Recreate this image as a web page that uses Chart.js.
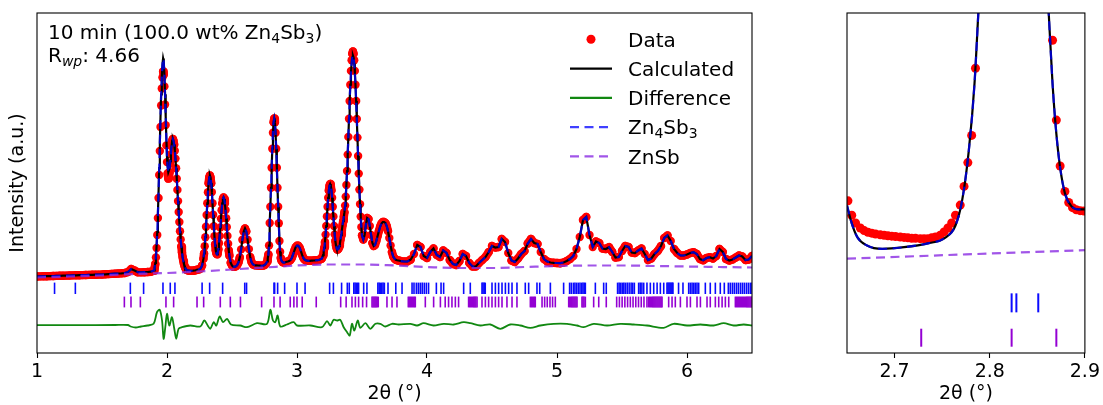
<!DOCTYPE html>
<html><head><meta charset="utf-8">
<script src="https://cdn.jsdelivr.net/npm/chart.js@4.4.0/dist/chart.umd.min.js"></script>
<style>
html,body{margin:0;padding:0;background:#fff;}
#wrap{position:relative;width:1103px;height:405px;overflow:hidden;background:#fff;}
#c1{position:absolute;left:0;top:0;width:770px;height:405px;}
#c2{position:absolute;left:810px;top:0;width:293px;height:405px;}
</style></head><body>
<div id="wrap"><canvas id="c1" width="770" height="405"></canvas><canvas id="c2" width="293" height="405"></canvas></div>
<script>
// ---------------- data (intensity in arbitrary units) ----------------
const twoTheta = [
1.000,1.025,1.050,1.075,1.100,1.125,1.150,1.175,1.200,1.225,1.250,1.275,1.300,1.325,1.350,1.375,1.400,1.425,1.450,1.475,1.500,1.525,1.550,1.575,1.600,1.625,1.650,1.675,1.700,1.725,1.750,1.775,1.800,1.825,1.850,1.875,
1.900,1.905,1.910,1.915,1.920,1.925,1.930,1.935,1.940,1.945,1.950,1.955,1.960,1.965,1.970,1.975,1.980,1.985,1.990,1.995,2.000,2.005,2.010,2.015,2.020,2.025,2.030,2.035,2.040,2.045,2.050,2.055,2.060,2.065,2.070,2.075,2.080,2.085,2.090,2.095,2.100,2.105,2.110,2.115,2.120,2.125,2.130,2.135,2.140,2.145,2.150,
2.16,2.17,2.18,2.19,2.20,2.21,2.22,2.23,2.24,2.25,2.26,2.27,
2.280,2.285,2.290,2.295,2.300,2.305,2.310,2.315,2.320,2.325,2.330,2.335,2.340,2.345,2.350,2.355,2.360,2.365,2.370,2.375,2.380,2.385,2.390,2.395,2.400,2.405,2.410,2.415,2.420,2.425,2.430,2.435,2.440,2.445,2.450,2.455,2.460,2.465,2.470,2.475,2.480,
2.49,2.50,2.51,2.52,2.53,2.54,2.55,2.56,2.57,2.58,2.59,2.60,2.61,2.62,2.63,2.64,2.65,2.66,2.67,2.68,2.69,2.70,2.71,2.72,2.73,2.74,2.75,2.76,2.77,
2.775,2.780,2.785,2.790,2.795,2.800,2.805,2.810,2.815,2.820,2.825,2.830,2.835,2.840,2.845,2.850,2.855,2.860,2.865,2.870,2.875,
2.88,2.89,2.90,2.91,2.92,2.93,2.94,2.95,2.96,2.97,2.98,2.99,3.00,3.01,3.02,3.03,3.04,3.05,3.06,3.07,3.08,3.09,3.10,3.11,3.12,3.13,3.14,3.15,3.16,3.17,3.18,
3.190,3.195,3.200,3.205,3.210,3.215,3.220,3.225,3.230,3.235,3.240,3.245,3.250,3.255,3.260,3.265,3.270,3.275,3.280,3.285,3.290,3.295,3.300,3.305,3.310,3.315,3.320,3.325,3.330,3.335,3.340,3.345,3.350,3.355,3.360,3.365,3.370,3.375,3.380,3.385,3.390,3.395,3.400,3.405,3.410,3.415,3.420,3.425,3.430,3.435,3.440,3.445,3.450,3.455,3.460,3.465,3.470,3.475,3.480,3.485,3.490,3.495,
3.50,3.51,3.52,3.53,3.54,3.55,3.56,3.57,3.58,3.59,3.60,3.61,3.62,3.63,3.64,3.65,3.66,3.67,3.68,3.69,3.70,3.71,3.72,3.73,3.74,3.75,3.76,3.77,3.78,3.79,
3.800,3.825,3.850,3.875, 3.900,3.925,3.950,3.975, 4.000,4.025,4.050,4.075, 4.100,4.125,4.150,4.175,
4.200,4.225,4.250,4.275, 4.300,4.325,4.350,4.375, 4.400,4.425,4.450,4.475, 4.500,4.525,4.550,4.575,
4.600,4.625,4.650,4.675, 4.700,4.725,4.750,4.775, 4.800,4.825,4.850,4.875, 4.900,4.925,4.950,4.975,
5.000,5.025,5.050,5.075, 5.100,5.125,5.150,5.175, 5.200,5.225,5.250,5.275, 5.300,5.325,5.350,5.375,
5.400,5.425,5.450,5.475, 5.500,5.525,5.550,5.575, 5.600,5.625,5.650,5.675, 5.700,5.725,5.750,5.775,
5.800,5.825,5.850,5.875, 5.900,5.925,5.950,5.975, 6.000,6.025,6.050,6.075, 6.100,6.125,6.150,6.175,
6.200,6.225,6.250,6.275, 6.300,6.325,6.350,6.375, 6.400,6.425,6.450,6.475, 6.500
];
const yObs = [
76.5,76.6,76.7,76.8,76.9,77.0,77.1,77.2,77.3,77.4,77.5,77.6,77.7,77.8,77.9,78.0,78.1,78.2,78.3,78.4,78.5,78.7,78.9,79.1,79.3,79.5,79.7,80.0,81.0,84.0,82.5,80.8,80.6,80.8,81.0,81.3,
82.3,85.0,89.0,95.5,105.0,118.0,135.0,155.0,178.0,202.0,226.0,247.5,264.5,275.5,281.5,278.5,266.6,248.5,227.9,207.6,190.9,179.5,174.4,175.3,180.8,189.3,198.7,206.9,212.4,214.1,212.2,208.4,202.3,194.4,184.7,174.2,163.1,151.9,141.0,131.0,121.8,113.6,106.6,100.8,96.0,92.2,89.2,87.0,85.3,84.1,83.2,
82.6,82.3,82.2,82.2,82.3,82.5,82.8,83.2,83.5,83.8,84.8,87.5,
94.1,99.5,106.7,115.8,126.3,138.0,149.7,160.8,169.7,175.5,177.6,175.5,169.7,160.9,149.8,138.2,126.7,116.8,108.6,102.7,99.5,98.6,100.1,103.8,109.8,117.1,125.5,134.4,142.8,149.6,154.0,155.6,154.0,149.7,143.0,134.7,125.9,117.1,109.3,102.6,97.3,
90.2,87.5,86.3,86.2,86.8,88.0,90.6,95.6,103.6,113.2,121.3,124.6,121.5,113.4,103.9,96.0,91.0,88.8,88.0,87.7,87.6,87.5,87.4,87.3,87.25,87.4,87.9,89.1,91.5,
94.5,98.5,107.5,130.0,146.3,165.2,185.3,204.3,220.3,230.8,234.5,230.8,220.3,204.3,185.3,165.2,146.3,129.8,112.0,101.2,95.0,
92.5,90.8,90.5,90.8,91.2,91.5,92.0,93.0,95.0,98.5,102.5,105.8,107.3,107.2,105.3,101.8,97.8,94.8,93.2,92.5,92.3,92.2,92.2,92.3,92.4,92.5,92.6,92.8,92.9,93.2,93.7,
94.3,95.7,97.8,100.9,105.3,111.1,118.4,127.0,136.6,146.2,155.2,162.5,167.3,169.0,167.3,162.5,155.2,146.2,136.6,127.0,118.6,112.0,107.5,104.8,103.5,103.5,104.5,106.8,109.8,113.5,117.8,122.8,127.6,131.9,136.1,140.8,147.4,156.4,168.0,182.0,198.4,216.1,234.3,252.0,268.3,282.1,292.7,299.2,301.5,299.2,292.7,282.1,268.3,252.0,234.0,215.4,197.0,179.4,163.4,148.9,136.4,125.9,
117.5,113.5,118,128,135,134,127,118,110,107,108,112,117,122,126.5,129.5,131,131,130,127,122,115,107.5,101,96.5,94.5,93.3,92.8,92.5,92.2,
91.8,91.5,91.6,93.5, 99,108,106,97, 95,101,104.5,98, 96,102.5,100,93,
89,88,92,99, 97,90,86.5,86.5, 90,93,96,101, 107,105.5,106,114,
111,100,92.5,91, 94.5,99,102,109.5, 114,110,109,101, 94,91.5,90.5,90.2,
90,89.8,90.5,92, 94,97,104,116, 133,136,118,106, 111.5,110,104.5,104,
105.8,101,95.5,96, 102,107,106,100.5, 100,102.5,104.5,99, 93,94.5,99,102,
107,115,117.5,112, 104,100,97.5,97.5, 98.5,100,100.8,99, 94,92.8,95,95.8,
94.5,97,104,101, 94,92.5,93.5,95.5, 97.5,96.5,93,93.5, 97
];
const yCalc = [
76.5,76.6,76.7,76.8,76.9,77.0,77.1,77.2,77.3,77.4,77.5,77.6,77.7,77.8,77.9,78.0,78.1,78.2,78.3,78.4,78.5,78.7,78.9,79.1,79.3,79.5,79.7,80.0,81.0,84.0,82.5,80.8,80.6,80.8,81.0,81.3,
82.5,85.6,90.0,97.0,107.1,121.0,139.1,160.4,184.8,210.3,235.7,258.6,276.6,288.3,294.5,291.2,278.3,258.8,236.5,214.5,196.1,186.0,180.9,180.9,184.8,191.9,199.7,206.9,212.4,214.1,212.2,208.4,202.3,194.4,184.7,174.2,163.1,151.9,141.0,131.0,121.8,113.6,106.6,100.8,96.0,92.2,89.2,87.0,85.3,84.1,83.2,
82.6,82.3,82.2,82.2,82.3,82.5,82.8,83.2,83.5,83.8,84.8,87.5,
94.1,99.5,106.7,115.8,126.3,138.0,149.7,160.8,169.7,175.5,177.6,175.5,169.7,160.9,149.8,138.2,126.7,116.8,108.6,102.7,99.5,98.6,100.1,103.8,109.8,117.1,125.5,134.4,142.8,149.6,154.0,155.6,154.0,149.7,143.0,134.7,125.9,117.1,109.3,102.6,97.3,
90.2,87.5,86.3,86.2,86.8,88.0,90.6,95.6,103.6,113.2,121.3,124.6,121.5,113.4,103.9,96.0,91.0,88.8,88.0,87.7,87.6,87.5,87.4,87.3,87.25,87.4,87.9,89.1,91.5,
94.5,98.5,107.5,130.0,146.3,165.2,185.3,204.3,220.3,230.8,234.5,230.8,220.3,204.3,185.3,165.2,146.3,129.8,112.0,101.2,95.0,
92.5,90.8,90.5,90.8,91.2,91.5,92.0,93.0,95.0,98.5,102.5,105.8,107.3,107.2,105.3,101.8,97.8,94.8,93.2,92.5,92.3,92.2,92.2,92.3,92.4,92.5,92.6,92.8,92.9,93.2,93.7,
94.3,95.7,97.8,100.9,105.3,111.1,118.4,127.0,136.6,146.2,155.2,162.5,167.3,169.0,167.3,162.5,155.2,146.2,136.6,127.0,118.6,112.0,107.5,104.8,103.5,103.5,104.5,106.8,109.8,113.5,117.8,122.8,127.6,131.9,136.1,140.8,147.4,156.4,168.0,182.0,198.4,216.1,234.3,252.0,268.3,280.0,289.5,295.5,297.5,295.5,289.5,280.0,268.3,252.0,234.0,215.4,197.0,179.4,163.4,148.9,136.4,125.9,
117.5,113.5,118,128,135,134,127,118,110,107,108,112,117,122,126.5,129.5,131,131,130,127,122,115,107.5,101,96.5,94.5,93.3,92.8,92.5,92.2,
91.8,91.5,91.6,93.5, 99,108,106,97, 95,101,104.5,98, 96,102.5,100,93,
89,88,92,99, 97,90,86.5,86.5, 90,93,96,101, 107,105.5,106,114,
111,100,92.5,91, 94.5,99,102,109.5, 114,110,109,101, 94,91.5,90.5,90.2,
90,89.8,90.5,92, 94,97,104,116, 133,136,118,106, 111.5,110,104.5,104,
105.8,101,95.5,96, 102,107,106,100.5, 100,102.5,104.5,99, 93,94.5,99,102,
107,115,117.5,112, 104,100,97.5,97.5, 98.5,100,100.8,99, 94,92.8,95,95.8,
94.5,97,104,101, 94,92.5,93.5,95.5, 97.5,96.5,93,93.5, 97
];
const diffX = [1.00,1.30,1.60,1.70,1.72,1.76,1.80,1.85,1.897,1.923,1.944,1.962,1.974,1.987,2.000,2.018,2.038,2.056,2.071,2.089,2.115,2.179,2.256,2.287,2.313,2.333,2.359,2.379,2.405,2.431,2.462,2.492,2.564,2.615,2.692,2.769,2.795,2.815,2.833,2.851,2.872,2.923,2.974,3.000,3.103,3.192,3.231,3.256,3.282,3.308,3.333,3.359,3.385,3.405,3.423,3.441,3.467,3.487,3.526,3.564,3.603,3.641,3.679,3.731,3.782,3.872,3.923,3.974,4.050,4.128,4.205,4.282,4.333,4.410,4.487,4.564,4.640,4.718,4.795,4.872,4.974,5.077,5.154,5.205,5.282,5.385,5.487,5.590,5.692,5.820,5.897,6.000,6.103,6.205,6.282,6.359,6.436,6.500];
const diffY = [27.8,27.8,28.0,28.0,26.5,25.5,26.5,27.5,29.2,40.8,43.2,32.5,14.2,25.8,39.2,27.5,35.8,24.2,14.2,24.2,25.8,27.5,26.5,32.5,27.5,24.2,30.8,27.5,36.5,30.8,34.2,28.5,27.5,25.8,29.8,29.2,43.2,32.5,30.8,37.5,26.5,28.5,30.8,27.5,27.5,25.8,31.8,27.5,33.2,32.5,33.2,25.8,20.8,17.5,29.2,22.5,32.5,25.2,29.8,24.2,29.2,29.2,26.5,29.2,28.5,29.2,27.5,29.8,27.5,29.2,28.5,30.8,29.8,27.5,28.5,24.2,28.5,27.5,25.2,27.5,29.2,29.2,27.5,25.8,29.2,27.5,29.2,28.5,27.5,25.2,29.2,27.5,28.5,27.5,29.8,27.5,28.5,27.5];
const bkgX = [1.0,1.25,1.5,1.75,2.0,2.25,2.5,2.75,3.0,3.25,3.5,3.75,4.0,4.25,4.5,4.75,5.0,5.25,5.5,5.75,6.0,6.25,6.5];
const bkgY = [75.5,76.5,77.5,79,80,81.5,83.5,85.5,87.5,88.5,88.5,87.5,86,85,85,86,87,87.5,87.5,87,86.5,86,85.5];
const zn4sb3Refl = [1.135,1.295,1.718,1.820,1.969,2.025,2.061,2.270,2.328,2.428,2.598,2.612,2.823,2.828,2.851,2.905,3.000,3.062,3.251,3.280,3.343,3.387,3.402,3.437,3.447,3.457,3.466,3.474,3.513,3.538,3.622,3.632,3.642,3.652,3.662,3.672,3.700,3.760,3.808,3.885,3.900,3.918,3.933,3.948,3.963,3.979,3.995,4.012,4.072,4.108,4.128,4.282,4.333,4.423,4.431,4.440,4.448,4.500,4.526,4.551,4.577,4.603,4.628,4.654,4.692,4.756,4.782,4.846,4.867,4.949,5.051,5.097,5.110,5.126,5.138,5.151,5.164,5.177,5.190,5.200,5.210,5.218,5.295,5.359,5.379,5.466,5.478,5.490,5.502,5.514,5.526,5.540,5.555,5.570,5.582,5.595,5.628,5.640,5.653,5.667,5.692,5.718,5.744,5.770,5.795,5.821,5.846,5.854,5.862,5.870,5.878,5.886,5.892,5.935,5.969,6.013,6.026,6.039,6.052,6.064,6.077,6.090,6.141,6.179,6.218,6.256,6.287,6.318,6.333,6.349,6.364,6.380,6.395,6.411,6.426,6.441,6.457,6.472,6.487,6.500];
const znsbRefl = [1.672,1.723,1.795,1.992,2.051,2.231,2.282,2.410,2.487,2.565,2.728,2.823,2.870,2.948,2.976,3.000,3.040,3.148,3.336,3.378,3.423,3.449,3.474,3.505,3.535,3.577,3.585,3.593,3.601,3.609,3.617,3.625,3.692,3.731,3.769,3.856,3.864,3.872,3.880,3.888,3.896,3.904,3.910,3.987,4.051,4.103,4.140,4.166,4.192,4.218,4.243,4.320,4.328,4.336,4.344,4.352,4.360,4.368,4.376,4.385,4.423,4.449,4.474,4.500,4.526,4.551,4.577,4.615,4.654,4.692,4.795,4.803,4.811,4.819,4.827,4.833,4.885,4.905,4.925,4.946,4.966,4.987,5.090,5.098,5.106,5.114,5.122,5.130,5.138,5.146,5.154,5.192,5.200,5.208,5.218,5.282,5.321,5.379,5.459,5.480,5.501,5.522,5.543,5.564,5.585,5.606,5.627,5.648,5.669,5.692,5.705,5.713,5.721,5.729,5.737,5.745,5.753,5.761,5.769,5.777,5.785,5.793,5.801,5.808,5.859,5.885,5.910,5.949,6.000,6.026,6.077,6.103,6.154,6.179,6.218,6.244,6.270,6.295,6.321,6.372,6.380,6.388,6.396,6.404,6.412,6.420,6.428,6.436,6.444,6.452,6.460,6.468,6.476,6.484,6.492,6.500];
// zoomed panel (2.65 - 2.90)
const zoomObsX = [2.651,2.655,2.659,2.664,2.668,2.672,2.676,2.680,2.685,2.689,2.693,2.697,2.701,2.706,2.710,2.714,2.718,2.722,2.727,2.731,2.735,2.739,2.743,2.748,2.752,2.756,2.760,2.764,2.769,2.773,2.777,2.781,2.785,2.866,2.870,2.874,2.879,2.883,2.887,2.891,2.895,2.899];
const zoomObsY = [91.7,90.0,89.1,88.5,88.2,88.0,87.9,87.8,87.7,87.65,87.6,87.55,87.5,87.45,87.4,87.35,87.3,87.3,87.25,87.25,87.25,87.35,87.45,87.65,88.05,88.5,89.1,90.0,91.2,93.4,96.2,99.4,107.3,110.6,101.2,95.8,92.8,91.5,90.9,90.65,90.55,90.5];
const zoomCalcX = [2.650,2.655,2.661,2.671,2.687,2.710,2.735,2.753,2.764,2.771,2.778,2.784,2.788,2.792,2.800,2.812,2.825,2.838,2.850,2.858,2.862,2.866,2.870,2.874,2.879,2.886,2.893,2.900];
const zoomCalcY = [91.15,89.05,87.4,86.45,86.05,86.25,86.7,87.35,88.8,91.75,97.6,105.5,113.75,122,160,215,232,215,160,122,113.75,105.5,99.6,95.6,92.6,91.05,90.7,90.7];
const zoomBkgX = [2.65,2.775,2.90];
const zoomBkgY = [84.9,85.4,85.9];
const mainTicks = [1,2,3,4,5,6];
const zoomTicks = [2.7,2.8,2.9];

// ---------------- styling / helpers ----------------
const FAM = '"DejaVu Sans", sans-serif';
Chart.defaults.font.family = FAM;
Chart.defaults.color = '#000';
const RED = '#ff0000', BLUE_D = 'rgba(0,0,255,0.75)', PURP_D = 'rgba(138,43,226,0.8)', GREEN = '#118811';
const TICK_BLUE = '#0a0aff', TICK_PURP = '#9400d3';
const DASH = [9, 5.5];

const pts = (xs, ys) => xs.map((x, i) => ({x, y: ys[i]}));
const row = (xs, level) => xs.map(x => ({x, y: level}));
// dense markers merge into a band where neighbouring points are close together
const bandColor = c => (Math.hypot(c.p1.x - c.p0.x, c.p1.y - c.p0.y) > 6 ? 'rgba(0,0,0,0)' : RED);

function drawRich(ctx, x, y, parts, size) {
  let cx = x;
  for (const p of parts) {
    const s = p.sub ? size * 0.7 : size;
    ctx.font = (p.it ? 'italic ' : '') + s + 'px ' + FAM;
    ctx.fillText(p.t, cx, y + (p.sub ? size * 0.2 : 0));
    cx += ctx.measureText(p.t).width;
  }
}
const framePlugin = {id: 'frame', afterDatasetsDraw(chart) {
  const {ctx, chartArea: a} = chart;
  ctx.save(); ctx.strokeStyle = '#000'; ctx.lineWidth = 1.1;
  ctx.strokeRect(a.left, a.top, a.right - a.left, a.bottom - a.top); ctx.restore();
}};
const textPlugin = {id: 'texts', afterDraw(chart) {
  const ctx = chart.ctx; ctx.save(); ctx.fillStyle = '#000'; ctx.textBaseline = 'alphabetic'; ctx.textAlign = 'left';
  drawRich(ctx, 48, 38.5, [{t: '10 min (100.0 wt% Zn'}, {t: '4', sub: 1}, {t: 'Sb'}, {t: '3', sub: 1}, {t: ')'}], 20);
  drawRich(ctx, 48, 62, [{t: 'R'}, {t: 'wp', sub: 1, it: 1}, {t: ': 4.66'}], 20);
  // legend
  const x0 = 570, x1 = 612, tx = 628, base = [46.5, 75.8, 105, 134.3, 163.5];
  const hy = b => b - 7.2;
  ctx.fillStyle = RED; ctx.beginPath(); ctx.arc(591, hy(base[0]), 4.5, 0, Math.PI * 2); ctx.fill();
  const lineH = (b, color, dash) => { ctx.strokeStyle = color; ctx.lineWidth = 2.2; ctx.setLineDash(dash || []);
    ctx.beginPath(); ctx.moveTo(x0, hy(b)); ctx.lineTo(x1, hy(b)); ctx.stroke(); ctx.setLineDash([]); };
  lineH(base[1], '#000'); lineH(base[2], GREEN); lineH(base[3], BLUE_D, DASH); lineH(base[4], PURP_D, DASH);
  ctx.fillStyle = '#000';
  drawRich(ctx, tx, base[0], [{t: 'Data'}], 20);
  drawRich(ctx, tx, base[1], [{t: 'Calculated'}], 20);
  drawRich(ctx, tx, base[2], [{t: 'Difference'}], 20);
  drawRich(ctx, tx, base[3], [{t: 'Zn'}, {t: '4', sub: 1}, {t: 'Sb'}, {t: '3', sub: 1}], 20);
  drawRich(ctx, tx, base[4], [{t: 'ZnSb'}], 20);
  ctx.restore();
}};

function scales(xmin, xmax, ymin, ymax, ticks, yTitle, yWidth) {
  return {
    x: {type: 'linear', min: xmin, max: xmax,
      afterBuildTicks: s => { s.ticks = ticks.map(v => ({value: v})); },
      ticks: {font: {size: 19}, color: '#000', padding: 3, maxRotation: 0, autoSkip: false, callback: v => String(v)},
      grid: {display: true, drawOnChartArea: false, drawTicks: true, tickLength: 5, tickColor: '#000', tickWidth: 1.1},
      border: {display: false},
      title: {display: true, text: '2θ (°)', font: {size: 19}, color: '#000', padding: {top: 0, bottom: 0}},
      afterFit: s => { s.height = 52; }},
    y: {type: 'linear', min: ymin, max: ymax,
      ticks: {display: false}, grid: {display: false}, border: {display: false},
      title: yTitle ? {display: true, text: yTitle, font: {size: 19}, color: '#000', padding: {top: 7, bottom: 0}} : {display: false},
      afterFit: s => { s.width = yWidth; }}
  };
}
function tickSet(label, xs, level, color, r, w) {
  return {label, data: row(xs, level), showLine: false, pointStyle: 'line', rotation: 90, pointRadius: r,
    pointBorderColor: color, pointBackgroundColor: color, pointBorderWidth: w, order: 0};
}
function dataSet(xs, ys, r) {
  return {label: 'Data', data: pts(xs, ys), showLine: true, borderColor: RED, borderWidth: 2 * r,
    borderCapStyle: 'round', borderJoinStyle: 'round', segment: {borderColor: bandColor},
    pointRadius: r, pointBackgroundColor: RED, pointBorderWidth: 0, order: 5};
}
const common = {responsive: false, animation: false, devicePixelRatio: 1, events: [],
  plugins: {legend: {display: false}, tooltip: {enabled: false}}};

// ---------------- main panel ----------------
new Chart(document.getElementById('c1'), {
  type: 'scatter',
  data: {datasets: [
    tickSet('Zn4Sb3 reflections', zn4sb3Refl, 64.7, TICK_BLUE, 5.7, 1.6),
    tickSet('ZnSb reflections', znsbRefl, 51.0, TICK_PURP, 5.4, 1.6),
    {label: 'ZnSb', data: pts(bkgX, bkgY), showLine: true, borderColor: PURP_D, borderWidth: 2.2, borderDash: DASH, pointRadius: 0, cubicInterpolationMode: 'monotone', order: 1},
    {label: 'Zn4Sb3', data: pts(twoTheta, yCalc), showLine: true, borderColor: BLUE_D, borderWidth: 2.2, borderDash: DASH, pointRadius: 0, order: 2},
    {label: 'Difference', data: pts(diffX, diffY), showLine: true, borderColor: GREEN, borderWidth: 1.8, pointRadius: 0, tension: 0.3, order: 3},
    {label: 'Calculated', data: pts(twoTheta, yCalc), showLine: true, borderColor: '#000', borderWidth: 2.2, pointRadius: 0, order: 4},
    dataSet(twoTheta, yObs, 4.2)
  ]},
  options: Object.assign({}, common, {
    layout: {padding: {left: 0, right: 18, top: 13, bottom: 0}},
    scales: scales(1, 6.5, 0, 340, mainTicks, 'Intensity (a.u.)', 37)
  }),
  plugins: [framePlugin, textPlugin]
});

// ---------------- zoomed panel ----------------
new Chart(document.getElementById('c2'), {
  type: 'scatter',
  data: {datasets: [
    tickSet('Zn4Sb3 reflections', zn4sb3Refl, 79.7, TICK_BLUE, 9.5, 2),
    tickSet('ZnSb reflections', znsbRefl, 75.6, TICK_PURP, 9, 2),
    {label: 'ZnSb', data: pts(zoomBkgX, zoomBkgY), showLine: true, borderColor: PURP_D, borderWidth: 2.2, borderDash: DASH, pointRadius: 0, order: 1},
    {label: 'Zn4Sb3', data: pts(zoomCalcX, zoomCalcY), showLine: true, borderColor: BLUE_D, borderWidth: 2.2, borderDash: DASH, pointRadius: 0, cubicInterpolationMode: 'monotone', order: 2},
    {label: 'Calculated', data: pts(zoomCalcX, zoomCalcY), showLine: true, borderColor: '#000', borderWidth: 2.2, pointRadius: 0, cubicInterpolationMode: 'monotone', order: 4},
    {label: 'Data', data: pts(zoomObsX, zoomObsY), showLine: false, pointRadius: 4.5, pointBackgroundColor: RED, pointBorderWidth: 0, order: 5}
  ]},
  options: Object.assign({}, common, {
    layout: {padding: {left: 0, right: 18, top: 13, bottom: 0}},
    scales: scales(2.65, 2.9, 73.8, 113.8, zoomTicks, null, 37)
  }),
  plugins: [framePlugin]
});
</script>
</body></html>
